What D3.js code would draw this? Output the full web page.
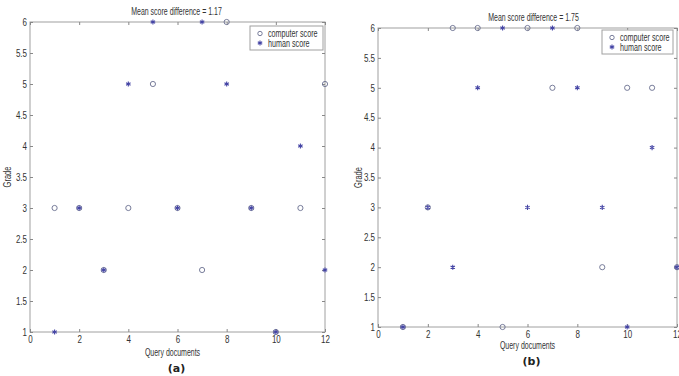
<!DOCTYPE html>
<meta charset="utf-8">
<title>Grades</title>
<style>
body { margin: 0; background: #fff; }
svg { display: block; }
text { font-family: "Liberation Sans", Arial, sans-serif; fill: #333; }
.tick text { font-size: 10px; }
.panel-label { font-family: "DejaVu Sans", Verdana, sans-serif; font-weight: bold; font-size: 11px; fill: #222; }
</style>
<body>
<script src="https://d3js.org/d3.v7.min.js"></script>
<script>

var width = 679, height = 376;

// query document numbers
var docs = [1, 2, 3, 4, 5, 6, 7, 8, 9, 10, 11, 12];

// human grades (same in both panels)
var humanScore = [1, 3, 2, 5, 6, 3, 6, 5, 3, 1, 4, 2];

// computer grades, panel (a) and panel (b)
var computerA = [3, 3, 2, 3, 5, 3, 2, 6, 3, 1, 3, 5];
var computerB = [1, 3, 6, 6, 1, 6, 5, 6, 2, 5, 5, 2];

var xTicks = [0, 2, 4, 6, 8, 10, 12];
var yTicks = [1, 1.5, 2, 2.5, 3, 3.5, 4, 4.5, 5, 5.5, 6];
var legendNames = ["computer score", "human score"];

var svg = d3.select("body").append("svg")
    .attr("width", width)
    .attr("height", height);

function meanDiff(a, b) {
  return d3.mean(a, function(d, i) { return Math.abs(d - b[i]); });
}

// the original uses a condensed font, squeeze the text horizontally
function narrowText(g, x, y, k, txt, anchor, rot) {
  return g.append("text")
      .attr("transform", "translate(" + x + "," + y + ")" + (rot ? " rotate(" + rot + ")" : "") + " scale(" + k + ",1)")
      .attr("text-anchor", anchor || "start")
      .style("font-size", "10px")
      .text(txt);
}

function panel(o) {
  var g = svg.append("g");
  var x = d3.scaleLinear().domain([0, 12]).range([o.x0, o.x1]);
  var y = d3.scaleLinear().domain([1, 6]).range([o.y1, o.y0]);

  // frame
  g.append("rect")
      .attr("x", o.x0).attr("y", o.y0)
      .attr("width", o.x1 - o.x0).attr("height", o.y1 - o.y0)
      .attr("fill", "none").attr("stroke", "#a0a0a0");

  // axes, matlab style ticks pointing inward
  g.append("g").attr("transform", "translate(0," + o.y1 + ")")
      .call(d3.axisBottom(x).tickValues(xTicks).tickSize(-3).tickPadding(4));
  g.append("g").attr("transform", "translate(0," + o.y0 + ")")
      .call(d3.axisTop(x).tickValues(xTicks).tickSize(-3).tickFormat(""));
  g.append("g").attr("class", "yax").attr("transform", "translate(" + o.x0 + ",0)")
      .call(d3.axisLeft(y).tickValues(yTicks).tickSize(-3).tickPadding(3).tickFormat(d3.format("")));
  g.append("g").attr("transform", "translate(" + o.x1 + ",0)")
      .call(d3.axisRight(y).tickValues(yTicks).tickSize(-3).tickFormat(""));
  g.selectAll(".domain").remove();
  g.selectAll(".tick line").attr("stroke", "#888");
  g.selectAll(".tick text").attr("fill", "#333")
      .attr("transform", "scale(0.8,1)");
  g.selectAll(".yax .tick text").attr("x", -3 / 0.8);

  // computer score: open circles
  g.selectAll("circle.comp")
      .data(o.comp)
    .enter().append("circle")
      .attr("class", "comp")
      .attr("cx", function(d, i) { return x(docs[i]); })
      .attr("cy", function(d) { return y(d); })
      .attr("r", 2.6)
      .attr("fill", "none")
      .attr("stroke", "#6a6f90")
      .attr("stroke-width", 0.9);

  // human score: asterisks
  var star = d3.symbol().type(d3.symbolAsterisk).size(18);
  g.selectAll("path.human")
      .data(humanScore)
    .enter().append("path")
      .attr("class", "human")
      .attr("d", star)
      .attr("transform", function(d, i) { return "translate(" + x(docs[i]) + "," + y(d) + ")"; })
      .attr("fill", "none")
      .attr("stroke", "#4545a5")
      .attr("stroke-width", 1.1);

  var cx = (o.x0 + o.x1) / 2;
  narrowText(g, cx + o.titleDx, o.y0 - 7, 0.7,
      "Mean score difference = " + d3.format(".2f")(meanDiff(o.comp, humanScore)), "middle");
  narrowText(g, cx + o.xlabDx, o.xlabY, 0.7, "Query documents", "middle");
  narrowText(g, o.gradeX, (o.y0 + o.y1) / 2, 0.75, "Grade", "middle", -90);

  g.append("text")
      .attr("class", "panel-label")
      .attr("x", cx + o.xlabDx + 4).attr("y", o.xlabY + 16)
      .attr("text-anchor", "middle")
      .text(o.label);

  // legend
  var lg = g.append("g").attr("transform", "translate(" + o.legX + "," + o.legY + ")");
  lg.append("rect")
      .attr("width", o.legW).attr("height", 24)
      .attr("fill", "#fff").attr("stroke", "#a0a0a0");
  lg.append("circle")
      .attr("cx", 10).attr("cy", 7.5).attr("r", 2.2)
      .attr("fill", "none").attr("stroke", "#6a6f90").attr("stroke-width", 0.9);
  lg.append("path")
      .attr("d", star).attr("transform", "translate(10,17)")
      .attr("fill", "none").attr("stroke", "#4545a5").attr("stroke-width", 1.1);
  legendNames.forEach(function(d, i) {
    narrowText(lg, 18, 11 + i * 10, 0.72, d);
  });
}

panel({ comp: computerA, label: "(a)", x0: 30, x1: 325, y0: 22, y1: 332,
        titleDx: -1, xlabDx: -5, xlabY: 356, gradeX: 11,
        legX: 250, legY: 26, legW: 73 });

panel({ comp: computerB, label: "(b)", x0: 378, x1: 677, y0: 28, y1: 327,
        titleDx: 6, xlabDx: 0, xlabY: 349, gradeX: 362,
        legX: 602, legY: 30, legW: 71 });

</script>
</body>
